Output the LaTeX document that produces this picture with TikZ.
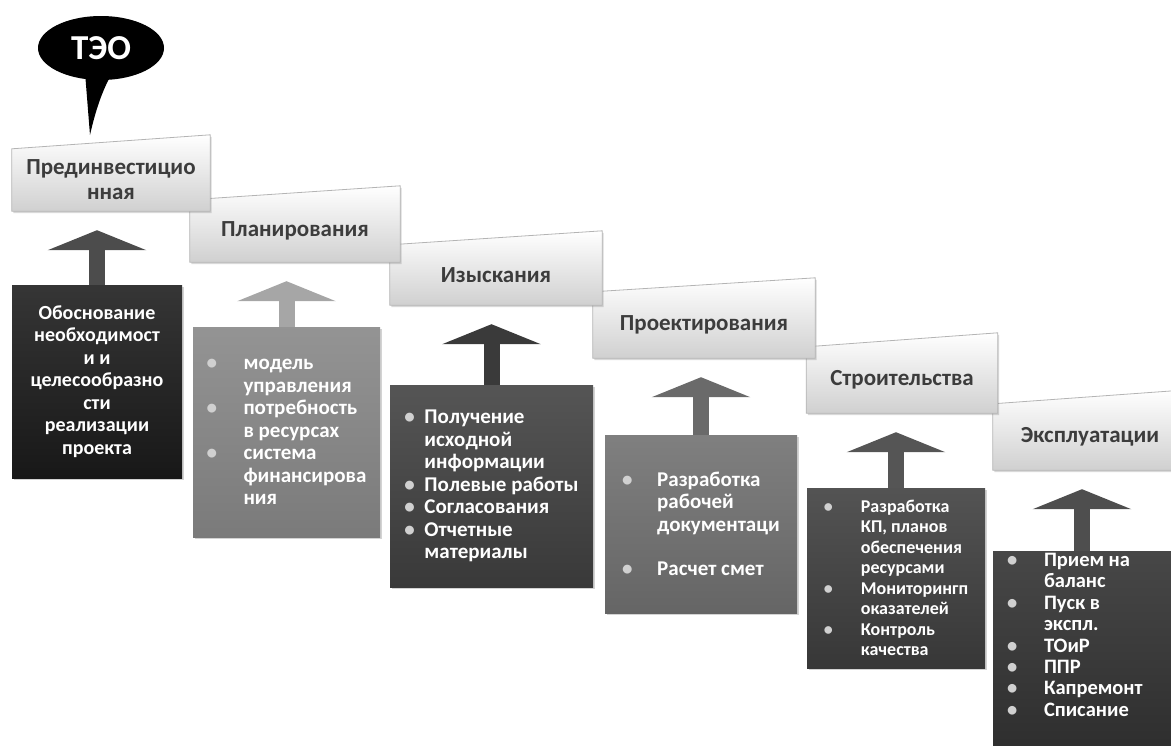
\documentclass[tikz,border=0pt]{standalone}
\usepackage{fontspec}
\setmainfont{Carlito}
\usepackage{tikz}
\usetikzlibrary{arrows.meta, calc, shapes.geometric, shadows}

\pgfdeclarelayer{bg}
\pgfsetlayers{bg,main}

\definecolor{hdrtext}{HTML}{3C3C3C}
\definecolor{hdrline}{HTML}{B4B4B4}
\definecolor{hdrlow}{HTML}{D0D0D0}
\definecolor{bulgray}{HTML}{D0D0D0}
\definecolor{boxA}{HTML}{1A1A1A}
\definecolor{boxB}{HTML}{858585}
\definecolor{boxC}{HTML}{3E3E3E}
\definecolor{boxD}{HTML}{6E6E6E}
\definecolor{boxE}{HTML}{3C3C3C}
\definecolor{boxF}{HTML}{2E2E2E}
\definecolor{arrA}{HTML}{4C4C4C}
\definecolor{arrB}{HTML}{A6A6A6}
\definecolor{arrC}{HTML}{3A3A3A}
\definecolor{arrD}{HTML}{6A6A6A}
\definecolor{arrE}{HTML}{555555}
\definecolor{arrF}{HTML}{4E4E4E}

\newcommand\bul[1][37pt]{\makebox[#1][l]{\textcolor{bulgray}{\textbullet}}}
\newcommand\bulind[1][37pt]{\hspace*{#1}}

\begin{document}
\begin{tikzpicture}[x=1pt, y=-1pt,
	hdr/.style={inner sep=0pt, text=hdrtext, align=center,
		font=\bfseries\fontsize{23}{25}\selectfont},
	hdrshape/.style={top color=white, bottom color=hdrlow, draw=hdrline, line width=.8pt,
		drop shadow={shadow xshift=1.5pt, shadow yshift=-2pt, opacity=.3}},
	box/.style={top color=#1!88!white, bottom color=#1!92!black, inner sep=2pt,
		text=white, align=left, font=\bfseries\fontsize{21}{22.5}\selectfont,
		drop shadow={shadow xshift=2pt, shadow yshift=-2pt, opacity=.35}},
	uparrow/.style={line width=16pt, -{Triangle[width=98pt, length=20pt]}, shorten >=19pt}]
	
	\useasboundingbox (0,0) rectangle (1171,745);
	
	% speech bubble
	\node[ellipse, fill=black, minimum width=126pt, minimum height=64pt, text=white,
		font=\bfseries\fontsize{35}{35}\selectfont] (teo) at (101,48) {ТЭО};
	\coordinate (tail) at (90,135);
	\fill[black] ($(teo.south)+(-16,-8)$) -- (tail)
		.. controls (96,108) and (104,86) .. ($(teo.south)+(12,-8)$) -- cycle;
	
	% stage headers
	\foreach \i/\pos/\bw/\bh/\txt in {
		1/{111,180}/198/62/{Прединвестицио\\нная},
		2/{295,231}/210/62/Планирования,
		3/{496,275}/212/60/Изыскания,
		4/{704,325}/222/66/Проектирования,
		5/{902,380}/191/66/Строительства,
		6/{1090,437}/194/66/Эксплуатации}
		\node[hdr, minimum width=\bw pt, minimum height=\bh pt] (h\i) at (\pos) {\txt};
	
	\begin{pgfonlayer}{bg}
		\foreach \i in {6,...,1}
			\shade[hdrshape] (h\i.south west) -- (h\i.north west)
				-- ($(h\i.north east)+(0,-14)$) -- (h\i.south east) -- cycle;
	\end{pgfonlayer}
	
	% contents
	\node[box=boxA, align=center, minimum width=170pt, minimum height=193pt,
		font=\bfseries\fontsize{20}{22.5}\selectfont] (c1) at (97,381.5)
		{Обоснование\\необходимост\\и и\\целесообразно\\сти\\реализации\\проекта};
	\node[box=boxB, minimum width=187pt, minimum height=210pt] (c2) at (286.5,432)
		{\bul модель\\\bulind управления\\\bul потребность\\\bulind в ресурсах\\
		 \bul система\\\bulind финансирова\\\bulind ния};
	\node[box=boxC, minimum width=203pt, minimum height=202pt] (c3) at (491.5,486)
		{\bul[20pt]Получение\\\bulind[20pt]исходной\\\bulind[20pt]информации\\
		 \bul[20pt]Полевые работы\\\bul[20pt]Согласования\\\bul[20pt]Отчетные\\
		 \bulind[20pt]материалы};
	\node[box=boxD, minimum width=192pt, minimum height=178pt] (c4) at (701,524)
		{\bul[35pt]Разработка\\\bulind[35pt]рабочей\\\bulind[35pt]документаци\\[22pt]
		 \bul[35pt]Расчет смет};
	\node[box=boxE, minimum width=178pt, minimum height=180pt,
		font=\bfseries\fontsize{18}{20.5}\selectfont] (c5) at (896,578)
		{\bul Разработка\\\bulind КП, планов\\\bulind обеспечения\\\bulind ресурсами\\
		 \bul Мониторингп\\\bulind оказателей\\\bul Контроль\\\bulind качества};
	\node[box=boxF, anchor=north, text width=150pt, inner xsep=14pt, align=flush left,
		font=\bfseries\fontsize{20.5}{21.4}\selectfont] (c6) at (1082,551)
		{\bul Прием на\\\bulind баланс\\\bul Пуск в\\\bulind экспл.\\\bul ТОиР\\
		 \bul ППР\\\bul Капремонт\\\bul Списание\\[40pt]\mbox{}};
	
	% arrows up to the headers
	\foreach \i/\col in {1/arrA, 2/arrB, 3/arrC, 4/arrD, 5/arrE, 6/arrF}
		\draw[uparrow, draw=\col] (c\i.north) -- (c\i.north |- h\i.south);
	
\end{tikzpicture}
\end{document}
